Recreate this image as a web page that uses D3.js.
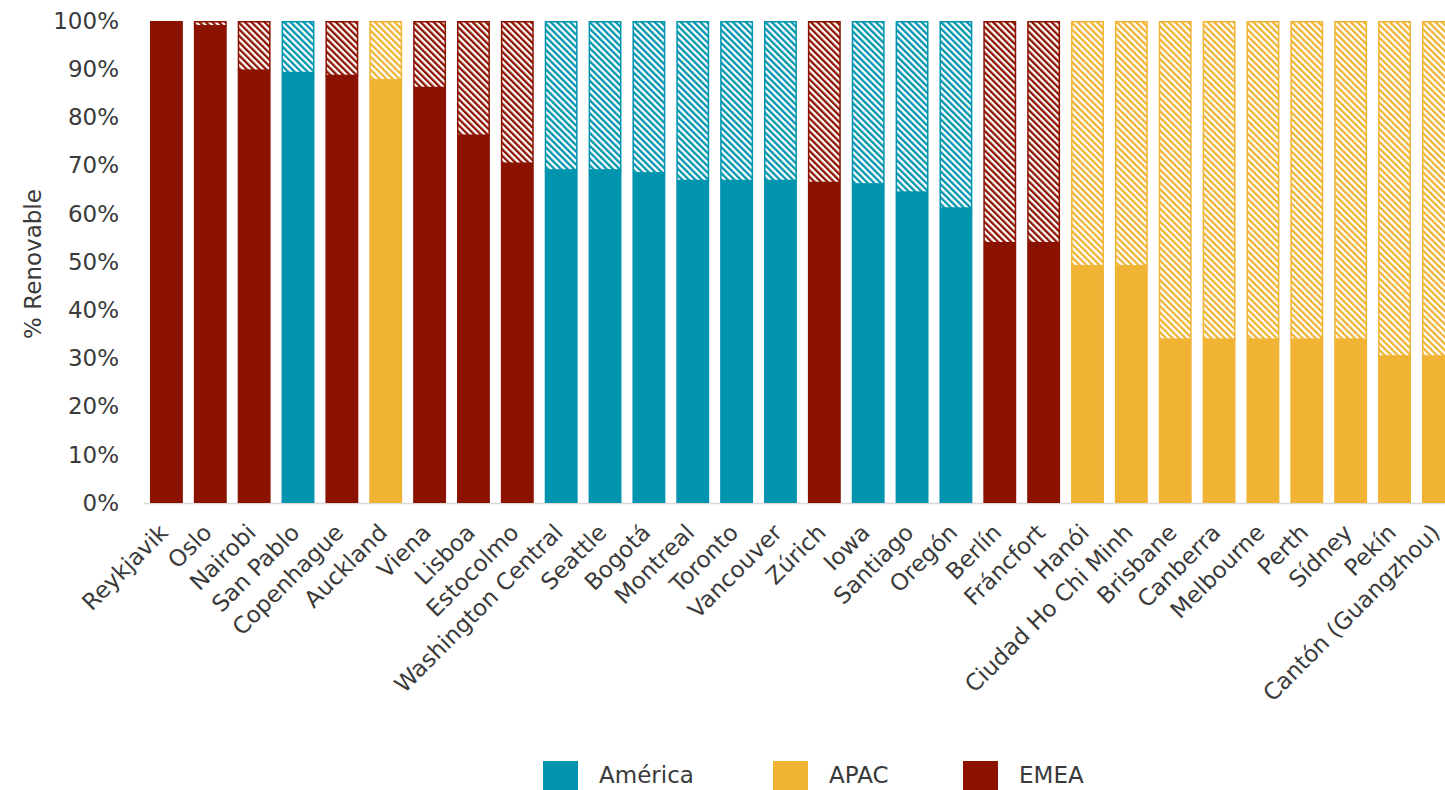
<!DOCTYPE html>
<html>
<head>
<meta charset="utf-8">
<script src="https://cdn.jsdelivr.net/npm/d3@7/dist/d3.min.js"></script>
<style>
  html, body { margin: 0; padding: 0; background: #fff; }
  svg { display: block; font-family: "DejaVu Sans", sans-serif; }
</style>
</head>
<body>
<svg id="chart" width="1445" height="790"></svg>
<script>
// Share of renewable energy per city, ordered from highest to lowest
const cities = ["Reykjavik", "Oslo", "Nairobi", "San Pablo", "Copenhague", "Auckland", "Viena",
  "Lisboa", "Estocolmo", "Washington Central", "Seattle", "Bogotá", "Montreal", "Toronto",
  "Vancouver", "Zúrich", "Iowa", "Santiago", "Oregón", "Berlín", "Fráncfort", "Hanói",
  "Ciudad Ho Chi Minh", "Brisbane", "Canberra", "Melbourne", "Perth", "Sídney", "Pekín",
  "Cantón (Guangzhou)"];
const regions = ["EMEA", "EMEA", "EMEA", "América", "EMEA", "APAC", "EMEA",
  "EMEA", "EMEA", "América", "América", "América", "América", "América",
  "América", "EMEA", "América", "América", "América", "EMEA", "EMEA", "APAC",
  "APAC", "APAC", "APAC", "APAC", "APAC", "APAC", "APAC",
  "APAC"];
const renewable = [100, 99, 89.8, 89.3, 88.7, 87.8, 86.2,
  76.3, 70.5, 69.1, 69.1, 68.5, 66.9, 66.9,
  66.9, 66.5, 66.2, 64.5, 61.2, 54.0, 54.0, 49.2,
  49.2, 34.0, 34.0, 34.0, 34.0, 34.0, 30.5,
  30.5];
const legendRegions = ["América", "APAC", "EMEA"];
const regionColors = ["#0094ae", "#f0b333", "#8c1200"];
const yTicks = [0, 10, 20, 30, 40, 50, 60, 70, 80, 90, 100];

const svg = d3.select("#chart");
const color = d3.scaleOrdinal().domain(legendRegions).range(regionColors);

const step = 43.86;
const x = d3.scaleBand()
  .domain(cities)
  .range([144.5, 144.5 + step * cities.length])
  .paddingInner(0.25)
  .paddingOuter(0.125);
const y = d3.scaleLinear().domain([0, 100]).range([503, 21]);

// Diagonal hatch fill, one per region colour
const defs = svg.append("defs");
legendRegions.forEach((r, i) => {
  const p = defs.append("pattern")
    .attr("id", "hatch" + i)
    .attr("patternUnits", "userSpaceOnUse")
    .attr("width", 4.6).attr("height", 4.6)
    .attr("patternTransform", "rotate(-45)");
  p.append("rect").attr("width", 4.6).attr("height", 4.6).attr("fill", "#fff");
  p.append("rect").attr("width", 2.3).attr("height", 4.6).attr("fill", color(r));
});

// Baseline
svg.append("line")
  .attr("x1", 144).attr("x2", 1445)
  .attr("y1", y(0) + 0.5).attr("y2", y(0) + 0.5)
  .attr("stroke", "#d9d9d9").attr("stroke-width", 1.5);

const bars = svg.append("g");
cities.forEach((c, i) => {
  const col = color(regions[i]);
  const idx = legendRegions.indexOf(regions[i]);
  // remaining (non-renewable) share, hatched
  if (renewable[i] < 100) {
    bars.append("rect")
      .attr("x", x(c) + 0.75)
      .attr("y", y(100) + 0.75)
      .attr("width", x.bandwidth() - 1.5)
      .attr("height", y(renewable[i]) - y(100) - 0.75)
      .attr("fill", `url(#hatch${idx})`)
      .attr("stroke", col).attr("stroke-width", 1.5);
  }
  // renewable share, solid
  bars.append("rect")
    .attr("x", x(c))
    .attr("y", y(renewable[i]))
    .attr("width", x.bandwidth())
    .attr("height", y(0) - y(renewable[i]))
    .attr("fill", col);
});

const textColor = "#3a3a3a";

// Y axis labels
const yAxis = d3.axisLeft(y).tickValues(yTicks).tickFormat(d => d + "%").tickSize(0).tickPadding(0);
const ya = svg.append("g").attr("transform", "translate(119,0)").call(yAxis);
ya.select(".domain").remove();
ya.selectAll("text").attr("font-size", 23).attr("fill", textColor)
  .attr("font-family", "DejaVu Sans, sans-serif");

// Y axis title
svg.append("text")
  .attr("transform", "translate(41,264) rotate(-90)")
  .attr("text-anchor", "middle")
  .attr("font-size", 23).attr("fill", textColor)
  .text("% Renovable");

// X axis labels, rotated
const xAxis = d3.axisBottom(x).tickSize(0).tickPadding(0);
const xa = svg.append("g").attr("transform", `translate(0,${y(0)})`).call(xAxis);
xa.select(".domain").remove();
xa.selectAll("text")
  .attr("font-size", 23).attr("fill", textColor)
  .attr("font-family", "DejaVu Sans, sans-serif")
  .attr("text-anchor", "end")
  .attr("y", 0).attr("dy", 0)
  .attr("transform", "translate(3,31) rotate(-45)");

// Legend
const legendX = [543, 773, 963];
const lg = svg.append("g");
legendRegions.forEach((r, i) => {
  lg.append("rect").attr("x", legendX[i]).attr("y", 761).attr("width", 35).attr("height", 35)
    .attr("fill", color(r));
  lg.append("text").attr("x", legendX[i] + 56).attr("y", 783)
    .attr("font-size", 23).attr("fill", textColor).text(r);
});
</script>
</body>
</html>
